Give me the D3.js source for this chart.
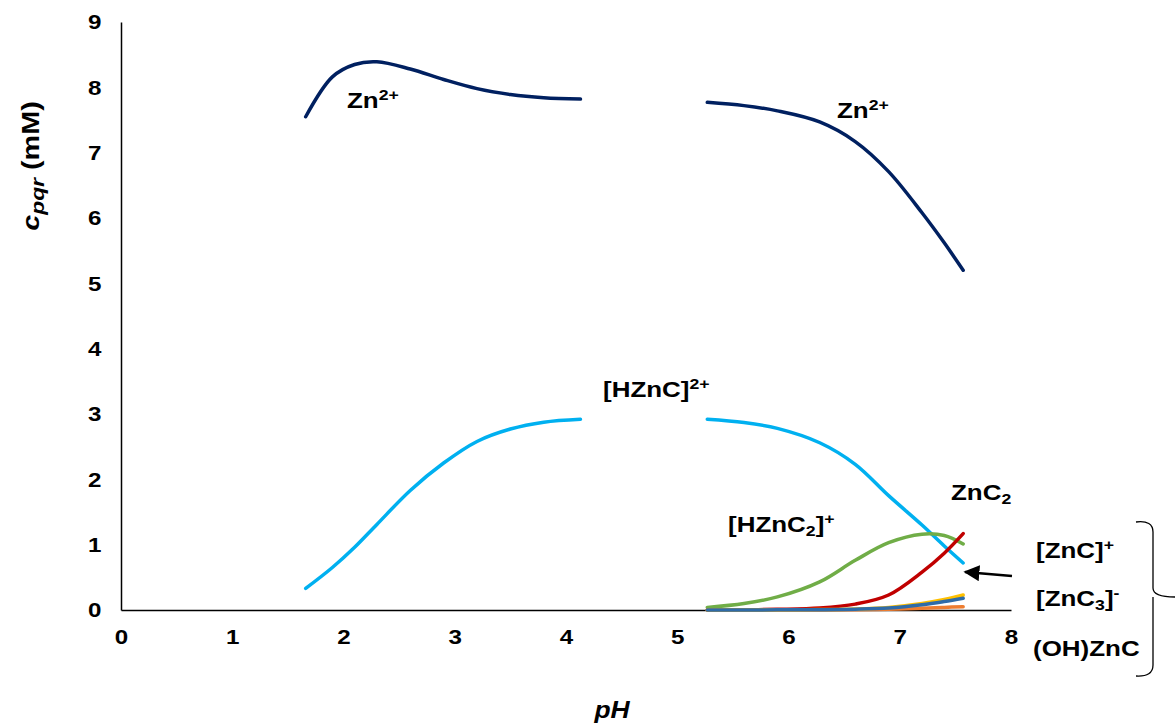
<!DOCTYPE html>
<html>
<head>
<meta charset="utf-8">
<script src="https://cdn.jsdelivr.net/npm/d3@7"></script>
<style>
  body { margin: 0; background: #fff; }
  text { font-family: "Liberation Sans", Arial, sans-serif; font-weight: bold; fill: #000; }
</style>
</head>
<body>
<div id="chart"></div>
<script>
// pH grid for the two computed ranges
const pHLow = [1.66, 1.9, 2.1, 2.3, 2.6, 2.9, 3.2, 3.5, 3.8, 4.13];
const pHHigh = [5.27, 5.6, 5.9, 6.28, 6.6, 6.9, 7.2, 7.4, 7.57];

// species concentrations (mM)
const znLow = [7.55, 8.16, 8.35, 8.39, 8.28, 8.12, 7.98, 7.89, 7.84, 7.82];
const znHigh = [7.77, 7.72, 7.64, 7.47, 7.17, 6.71, 6.08, 5.62, 5.2];
const hzncLow = [0.33, 0.65, 0.96, 1.31, 1.83, 2.25, 2.58, 2.77, 2.875, 2.92];
const hzncHigh = [2.92, 2.87, 2.78, 2.56, 2.23, 1.75, 1.3, 0.98, 0.72];
const hznc2High = [0.04, 0.1, 0.2, 0.43, 0.76, 1.03, 1.16, 1.14, 1.01];
const znc2High = [0, 0.003, 0.01, 0.03, 0.09, 0.23, 0.58, 0.87, 1.17];
const zncHigh = [0, 0, 0.002, 0.006, 0.015, 0.04, 0.1, 0.16, 0.23];
const ohzncHigh = [0, 0, 0, 0.001, 0.004, 0.01, 0.025, 0.04, 0.05];
const znc3High = [0, 0, 0.002, 0.005, 0.012, 0.03, 0.08, 0.13, 0.18];

const xTicks = [0, 1, 2, 3, 4, 5, 6, 7, 8];
const yTicks = [0, 1, 2, 3, 4, 5, 6, 7, 8, 9];

const width = 1175, height = 723;

const svg = d3.select("#chart").append("svg")
  .attr("width", width)
  .attr("height", height);

const x = d3.scaleLinear().domain([0, 8]).range([121, 1011]);
const y = d3.scaleLinear().domain([0, 9]).range([610, 22]);

// axes: no tick marks, only the lines and labels
const yAxis = svg.append("g")
  .attr("transform", `translate(${x(0)},0)`)
  .call(d3.axisLeft(y).tickValues(yTicks).tickSize(0).tickPadding(17));
const xAxis = svg.append("g")
  .attr("transform", `translate(0,${y(0)})`)
  .call(d3.axisBottom(x).tickValues(xTicks).tickSize(0).tickPadding(19));

[yAxis, xAxis].forEach(a => {
  a.select(".domain").attr("stroke", "#000").attr("stroke-width", 1.5);
  a.selectAll("text")
    .style("font-family", "'Liberation Sans', Arial, sans-serif")
    .style("font-weight", "bold")
    .style("font-size", "21px")
    .attr("transform", "scale(1.15,1)")
    .attr("fill", "#000");
});

// series lines
const series = [
  { px: pHLow, vals: znLow, color: "#002060" },
  { px: pHHigh, vals: znHigh, color: "#002060" },
  { px: pHLow, vals: hzncLow, color: "#00B0F0" },
  { px: pHHigh, vals: hzncHigh, color: "#00B0F0" },
  { px: pHHigh, vals: hznc2High, color: "#70AD47" },
  { px: pHHigh, vals: znc2High, color: "#C00000" },
  { px: pHHigh, vals: ohzncHigh, color: "#ED7D31" },
  { px: pHHigh, vals: zncHigh, color: "#FFC000" },
  { px: pHHigh, vals: znc3High, color: "#2E6BA8" },
];

const line = d3.line()
  .x(d => x(d[0]))
  .y(d => y(d[1]))
  .curve(d3.curveCatmullRom.alpha(0.5));

svg.append("g").selectAll("path")
  .data(series)
  .join("path")
  .attr("d", s => line(s.px.map((p, i) => [p, s.vals[i]])))
  .attr("fill", "none")
  .attr("stroke", s => s.color)
  .attr("stroke-width", 3.5)
  .attr("stroke-linecap", "round");

// text labels with sub/superscripts (slightly widened like the original)
function label(xPos, yPos, parts, size) {
  const t = svg.append("text")
    .attr("transform", `translate(${xPos},${yPos}) scale(1.18,1)`)
    .style("font-size", size + "px");
  parts.forEach(p => {
    const ts = t.append("tspan").text(p[0]);
    if (p[1] === "sup") ts.attr("dy", -8).style("font-size", (size * 0.68) + "px");
    if (p[1] === "sub") ts.attr("dy", 4).style("font-size", (size * 0.68) + "px");
    if (p[1] === "back") ts.attr("dy", p[2]);
  });
  return t;
}

label(347, 108, [["Zn"], ["2+", "sup"]], 22);
label(837, 118, [["Zn"], ["2+", "sup"]], 22);
label(603, 397, [["[HZnC]"], ["2+", "sup"]], 22);
label(951, 500, [["ZnC"], ["2", "sub"]], 22);
label(728, 532, [["[HZnC"], ["2", "sub"], ["]", "back", -4], ["+", "sup"]], 22);
label(1036, 558, [["[ZnC]"], ["+", "sup"]], 22);
label(1036, 606, [["[ZnC"], ["3", "sub"], ["]", "back", -4], ["-", "sup"]], 22);
label(1033, 656, [["(OH)ZnC"]], 22);

// arrow pointing at the low species
svg.append("defs").append("marker")
  .attr("id", "head")
  .attr("viewBox", "0 0 10 10")
  .attr("refX", 9).attr("refY", 5)
  .attr("markerWidth", 16).attr("markerHeight", 16)
  .attr("markerUnits", "userSpaceOnUse")
  .attr("orient", "auto")
  .append("path").attr("d", "M0,0L10,5L0,10Z").attr("fill", "#000");
svg.append("line")
  .attr("x1", 1012).attr("y1", 576)
  .attr("x2", 965).attr("y2", 572)
  .attr("stroke", "#000").attr("stroke-width", 2.4)
  .attr("marker-end", "url(#head)");

// curly bracket grouping the three minor species
svg.append("path")
  .attr("d", "M1136,522 Q1153,520 1153,532 L1153,588 Q1153,597 1175,597 M1153,597 Q1153,600 1153,606 L1153,665 Q1153,677 1136,676")
  .attr("fill", "none")
  .attr("stroke", "#000")
  .attr("stroke-width", 1.3);

// axis titles
const yTitle = svg.append("text")
  .attr("transform", "translate(39,166) rotate(-90) scale(1.2,1)")
  .attr("text-anchor", "middle")
  .style("font-size", "24px");
yTitle.append("tspan").text("c").style("font-style", "italic");
yTitle.append("tspan").text("pqr").style("font-style", "italic").style("font-size", "19px").attr("dy", 5);
yTitle.append("tspan").text(" (mM)").attr("dy", -5);

svg.append("text")
  .attr("transform", "translate(612,718) scale(1.15,1)")
  .attr("text-anchor", "middle")
  .style("font-size", "23px")
  .style("font-style", "italic")
  .text("pH");
</script>
</body>
</html>
